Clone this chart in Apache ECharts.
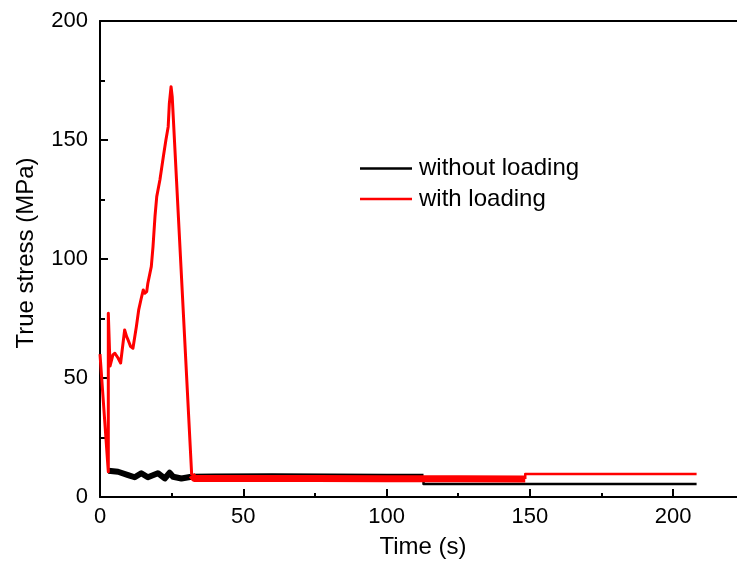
<!DOCTYPE html>
<html>
<head>
<meta charset="utf-8">
<script src="https://cdn.jsdelivr.net/npm/echarts@6/dist/echarts.min.js"></script>
<style>
html,body{margin:0;padding:0;background:#fff;}
#chart{width:737px;height:574px;}
</style>
</head>
<body>
<div id="chart"></div>
<script>
// ---- data ----
const seriesNames = ['without loading', 'with loading'];
const xTickLabels = [0, 50, 100, 150, 200];
const xMinorTicks = [25, 75, 125, 175];
const yTickLabels = [0, 50, 100, 150, 200];

// without loading: noisy early part (thick band) and the later flat part
const blackBandTime   = [2.9, 3.4, 6.3, 9.8, 12.1, 14.4, 16.7, 20.2, 22.6, 24.3, 25.5, 28.4, 31.9, 40, 60, 80, 100, 112.9];
const blackBandStress = [11, 11.3, 10.6, 9.2, 8.3, 10, 8.3, 10, 7.8, 10.2, 8.5, 7.8, 8.5, 8.6, 8.7, 8.6, 8.5, 8.5];
const blackTailTime   = [112.9, 112.9, 150, 208.2];
const blackTailStress = [8.5, 5.5, 5.5, 5.5];

// with loading: rise to peak, drop, noisy band, then flat
const redRiseTime   = [0, 2.9, 2.9, 3.5, 4.5, 5.2, 5.7, 6.3, 7.2, 7.6, 8.6, 9.3, 9.8, 10.7, 11.5, 12.7, 13.5, 14.4, 15.1, 15.6, 16.3, 16.7, 17.9, 18.5, 19.2, 19.8, 20.9, 22.1, 23.0, 23.8, 24.2, 24.8, 25.2, 32.0];
const redRiseStress = [60, 10.6, 77.2, 55, 59.7, 60.4, 61, 58.4, 56.3, 57, 70.2, 67.4, 66, 63.2, 62.5, 71.6, 78.6, 83.5, 87, 85.6, 86.3, 89.8, 96.8, 105.2, 118, 126.2, 133.2, 143, 150, 155.6, 165.4, 172.4, 168.2, 9.2];
const redBandTime   = [32.0, 32.9, 50, 75, 100, 125, 148.4];
const redBandStress = [9.2, 7.8, 7.8, 7.8, 7.7, 7.7, 7.6];
const redTailTime   = [148.4, 148.4, 208.2];
const redTailStress = [7.6, 9.7, 9.7];

function pairs(xs, ys) { return xs.map((x, i) => [x, ys[i]]); }

const FONT = 'Liberation Sans, Arial, sans-serif';
const X_MAX = 222.3;
const chart = echarts.init(document.getElementById('chart'), null, {renderer: 'canvas'});

const lineSeries = (name, data, color, width) => ({
  name: name, type: 'line', xAxisIndex: 0, yAxisIndex: 0,
  data: data, showSymbol: false, symbol: 'none', animation: false,
  itemStyle: {color: color},
  lineStyle: {color: color, width: width, join: 'round'},
  z: color === '#ff0000' ? 3 : 2
});

chart.setOption({
  animation: false,
  backgroundColor: '#ffffff',
  textStyle: {fontFamily: FONT, color: '#000'},
  grid: {left: 100, top: 21, bottom: 77, right: 0, containLabel: false},
  legend: {
    orient: 'vertical', left: 360, top: 156.5, padding: 0,
    data: seriesNames,
    icon: 'rect', itemWidth: 52, itemHeight: 2.6, itemGap: 6.5,
    textStyle: {fontFamily: FONT, fontSize: 24, color: '#000', padding: [0, 0, 0, 2]}
  },
  xAxis: [
    {
      type: 'value', position: 'bottom', min: 0, max: X_MAX, interval: 50,
      name: 'Time (s)', nameLocation: 'middle', nameGap: 38,
      nameTextStyle: {fontFamily: FONT, fontSize: 24, color: '#000', padding: [0, 0, 0, 9]},
      axisLine: {show: true, onZero: false, lineStyle: {color: '#000', width: 2}},
      axisTick: {show: true, inside: true, length: 8, customValues: xTickLabels, lineStyle: {color: '#000', width: 2}},
      minorTick: {show: false},
      axisLabel: {
        show: true, margin: 9, fontFamily: FONT, fontSize: 22, color: '#000',
        customValues: xTickLabels,
        formatter: v => (xTickLabels.indexOf(v) >= 0 ? String(v) : '')
      },
      splitLine: {show: false}
    },
    {
      type: 'value', position: 'top', min: 0, max: X_MAX,
      axisLine: {show: true, onZero: false, lineStyle: {color: '#000', width: 2}},
      axisTick: {show: false}, axisLabel: {show: false}, splitLine: {show: false}
    },
    {
      type: 'value', position: 'bottom', min: 0, max: X_MAX,
      axisLine: {show: false},
      axisTick: {show: true, inside: true, length: 4, customValues: xMinorTicks, lineStyle: {color: '#000', width: 2}},
      axisLabel: {show: false}, splitLine: {show: false}
    }
  ],
  yAxis: {
    type: 'value', min: 0, max: 200, interval: 50,
    name: 'True stress (MPa)', nameLocation: 'middle', nameGap: 62,
    nameTextStyle: {fontFamily: FONT, fontSize: 24, color: '#000', padding: [0, 0, 0, 12]},
    axisLine: {show: true, onZero: false, lineStyle: {color: '#000', width: 2}},
    axisTick: {show: true, inside: true, length: 8, lineStyle: {color: '#000', width: 2}},
    minorTick: {show: true, splitNumber: 2, length: 5, lineStyle: {color: '#000', width: 2}},
    axisLabel: {
      show: true, margin: 12, fontFamily: FONT, fontSize: 22, color: '#000',
      formatter: v => (yTickLabels.indexOf(v) >= 0 ? String(v) : '')
    },
    splitLine: {show: false}
  },
  series: [
    lineSeries(seriesNames[0], pairs(blackBandTime, blackBandStress), '#000000', 6),
    lineSeries(seriesNames[0], pairs(blackTailTime, blackTailStress), '#000000', 2.5),
    lineSeries(seriesNames[1], pairs(redRiseTime, redRiseStress), '#ff0000', 3),
    lineSeries(seriesNames[1], pairs(redBandTime, redBandStress), '#ff0000', 7),
    lineSeries(seriesNames[1], pairs(redTailTime, redTailStress), '#ff0000', 2.5)
  ]
});
</script>
</body>
</html>
